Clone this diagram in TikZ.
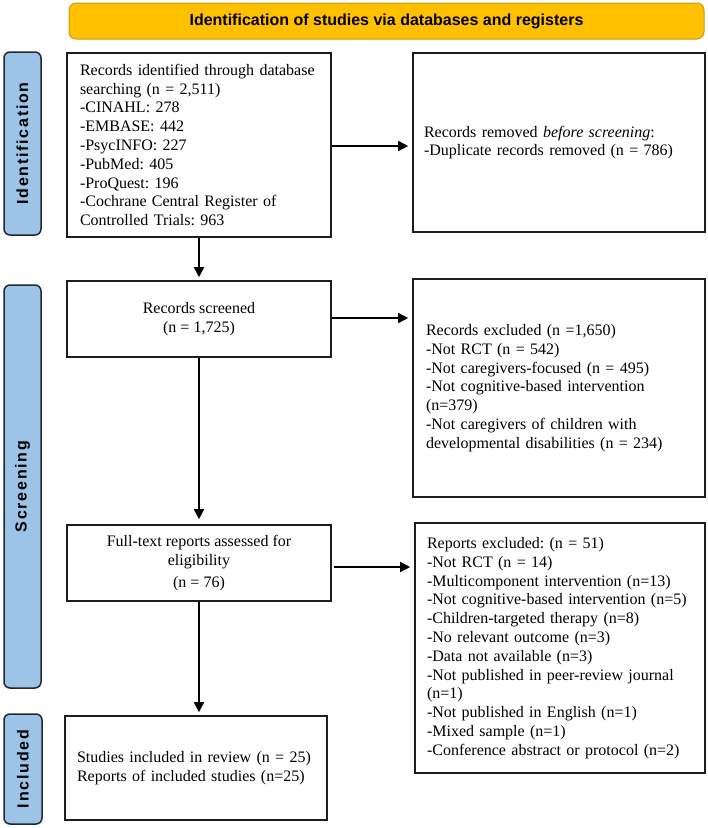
\documentclass[tikz,border=0pt]{standalone}
\usepackage{fontspec}
\setmainfont{Liberation Serif}
\newfontfamily\labfont{Liberation Sans}[LetterSpace=11]
\newfontfamily\banfont{Liberation Sans}
\usetikzlibrary{arrows.meta}
\definecolor{gold}{RGB}{255,192,0}
\definecolor{goldline}{RGB}{205,155,20}
\definecolor{sideblue}{RGB}{157,195,230}
\definecolor{sideline}{RGB}{30,40,55}
\definecolor{boxline}{RGB}{30,30,30}
\frenchspacing
\begin{document}
\begin{tikzpicture}[x=1pt,y=-1pt,
  box/.style={draw=boxline, line width=1.6pt, rectangle, inner sep=0pt, font=\fontsize{16}{18.8}\selectfont},
  lbox/.style={box, align=left, inner xsep=13pt, text width=#1},
  cbox/.style={box, align=center},
  side/.style={draw=sideline, fill=sideblue, line width=1.5pt, rounded corners=6pt, inner sep=0pt, rotate=90, font=\labfont\bfseries\fontsize{16}{18}\selectfont},
  arr/.style={line width=1.6pt, -{Triangle[length=10pt,width=10pt]}}]
\useasboundingbox (0,0) rectangle (708,828);
\node[draw=goldline, fill=gold, rounded corners=7pt, line width=1pt, minimum width=635pt, minimum height=36pt, inner sep=0pt, font=\banfont\bfseries\fontsize{16}{18}\selectfont] (ban) at (386.5,21) {Identification of studies via databases and registers};
\node[side, minimum width=183pt, minimum height=37pt] (s1) at (22.5,143.5) {Identification};
\node[side, minimum width=403pt, minimum height=37pt] (s2) at (22.5,486.5) {Screening};
\node[side, minimum width=110pt, minimum height=38pt] (s3) at (23,769) {Included};
\node[lbox=238pt, minimum height=184pt] (b1) at (199,145) {Records identified through database\\ searching (n = 2,511)\\ -CINAHL: 278\\ -EMBASE: 442\\ -PsycINFO: 227\\ -PubMed: 405\\ -ProQuest: 196\\ -Cochrane Central Register of\\ Controlled Trials: 963};
\node[lbox=266pt, minimum height=179pt, inner xsep=11pt, text width=270pt] (r1) at (559,142.5) {Records removed \textit{before screening}:\\ -Duplicate records removed (n = 786)};
\node[cbox, minimum width=264pt, minimum height=76pt] (b2) at (199,319) {Records screened\\ (n = 1,725)};
\node[lbox=266pt, minimum height=218pt] (r2) at (559,388) {Records excluded (n =1,650)\\ -Not RCT (n = 542)\\ -Not caregivers-focused (n = 495)\\ -Not cognitive-based intervention\\ (n=379)\\ -Not caregivers of children with\\ developmental disabilities (n = 234)};
\node[cbox, minimum width=264pt, minimum height=76pt] (b3) at (199,563) {Full-text reports assessed for\\ eligibility\\[3pt] (n = 76)};
\node[lbox=264pt, minimum height=250pt, inner xsep=12pt, text width=266pt] (r3) at (560,648) {Reports excluded: (n = 51)\\ -Not RCT (n = 14)\\ -Multicomponent intervention (n=13)\\ -Not cognitive-based intervention (n=5)\\ -Children-targeted therapy (n=8)\\ -No relevant outcome (n=3)\\ -Data not available (n=3)\\ -Not published in peer-review journal\\ (n=1)\\ -Not published in English (n=1)\\ -Mixed sample (n=1)\\ -Conference abstract or protocol (n=2)};
\node[lbox=238pt, minimum height=104pt, inner xsep=12pt] (b4) at (196,768) {Studies included in review (n = 25)\\ Reports of included studies (n=25)};
\draw[arr, shorten >=4pt] (b1.east |- 0,146) -- (r1.west |- 0,146);
\draw[arr, shorten >=4pt] (b2.east |- 0,318) -- (r2.west |- 0,318);
\draw[arr, shorten <=2pt, shorten >=4pt] (b3.east |- 0,567) -- (r3.west |- 0,567);
\draw[arr, shorten >=3pt] (b1.south) -- (b2.north);
\draw[arr, shorten >=5pt] (b2.south) -- (b3.north);
\draw[arr, shorten >=3pt] (b3.south) -- (b3.south |- b4.north);
\end{tikzpicture}
\end{document}
